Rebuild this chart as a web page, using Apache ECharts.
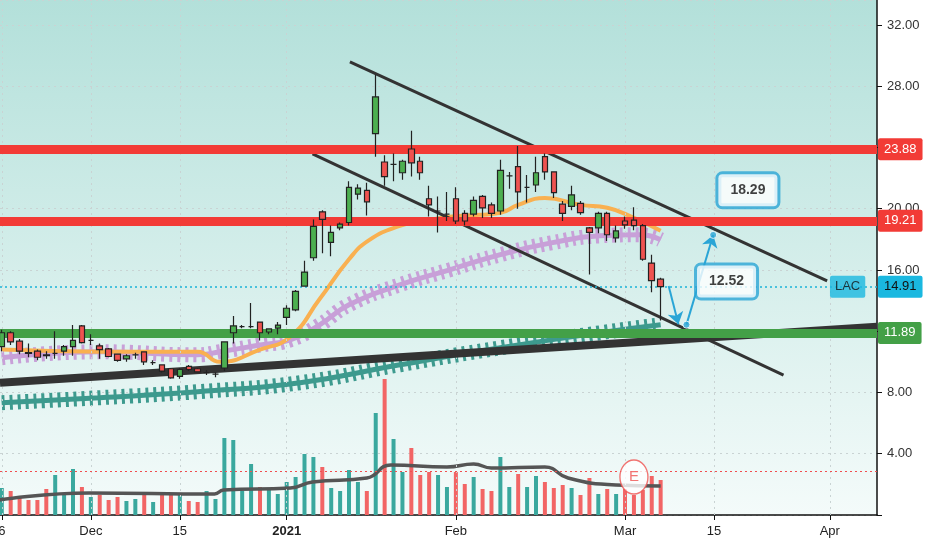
<!DOCTYPE html>
<html><head><meta charset="utf-8">
<script src="https://cdn.jsdelivr.net/npm/echarts@6/dist/echarts.min.js"></script>
<style>html,body{margin:0;padding:0;background:#fff}#c{width:932px;height:550px}</style>
</head><body><div id="c"></div>
<script>
// trading-day index: 0 = Dec 1 2020
const startIndex = -10;
const opens  = [11.0,11.9,11.35,10.6,10.7,10.45,10.55,10.7,11.0,12.35,11.4,11.05,10.85,10.5,10.2,10.45,10.65,9.95,9.8,9.55,9.05,9.7,9.55,9.3,9.2,9.6,11.9,12.3,12.3,12.6,11.95,12.2,12.9,13.4,14.95,16.8,19.8,17.8,18.75,19.1,20.95,21.2,24.9,23.05,22.9,22.35,23.9,23.1,20.65,19.85,19.65,20.65,19.7,19.65,20.8,20.25,19.85,22.15,22.75,21.4,21.55,23.4,22.4,20.3,20.15,20.35,18.75,18.75,19.7,18.1,19.2,19.25,18.9,16.45,15.4];
const closes = [11.9,11.3,10.7,10.55,10.3,10.4,10.55,11.0,11.4,11.25,11.4,10.8,10.35,10.1,10.4,10.45,10.0,9.95,9.4,8.95,9.5,9.5,9.35,9.3,9.2,11.3,12.35,12.3,12.3,11.9,12.15,12.4,13.5,14.6,15.86,18.85,19.3,18.45,19.0,21.4,21.35,20.45,27.3,22.1,22.9,23.1,23.0,22.35,20.25,19.85,19.65,19.2,19.2,20.55,20.05,19.7,22.5,22.15,21.1,21.4,22.35,22.4,21.05,19.7,20.9,19.75,18.45,19.7,18.3,18.55,18.95,18.9,16.7,15.3,14.91];
const lows   = [10.7,11.1,10.5,10.3,10.1,10.2,10.2,10.4,10.4,11.2,11.1,10.2,10.3,10.0,10.0,10.2,9.8,9.8,9.3,8.9,8.9,9.4,9.3,9.15,9.0,9.4,11.2,12.2,12.2,11.4,11.8,11.8,12.4,13.3,14.9,16.6,17.1,16.9,18.6,18.9,20.6,19.55,23.4,21.5,21.8,21.9,22.1,21.9,19.5,18.45,19.2,19.0,18.9,19.5,19.4,19.4,19.6,21.3,20.0,20.4,21.1,21.9,20.7,19.2,19.9,19.6,15.7,18.4,17.9,17.8,18.7,18.6,16.6,14.55,12.7];
const highs  = [12.1,12.0,11.5,11.2,10.8,10.7,12.0,11.1,12.4,12.4,11.8,11.2,10.9,10.5,10.5,10.6,10.7,10.1,9.85,9.6,9.6,9.8,9.6,9.45,9.3,11.3,13.0,12.4,13.85,12.6,12.2,12.6,13.7,14.7,16.6,19.3,19.9,18.9,19.1,21.8,21.6,21.7,28.75,23.5,23.6,23.2,25.1,23.4,21.5,20.8,21.1,21.4,19.9,20.8,20.9,20.4,23.2,22.4,24.1,22.2,23.4,23.6,22.4,20.5,21.5,20.5,18.8,19.8,19.8,18.9,19.5,20.1,19.0,17.0,15.5];
const volumes = [27,24,19,15,15,26,40,22,46,28,18,20,15,18,14,16,20,13,21,20,22,14,13,24,16,77,75,24,51,28,25,21,33,38,61,58,48,27,24,45,33,24,102,136,76,43,67,40,43,40,28,43,31,38,26,24,58,28,41,28,39,33,27,30,27,20,37,21,26,21,26,20,25,39,35];
const volMA = [[-10.3,15],[-0.2,22],[13.9,21],[14.9,25],[22.4,27],[24.9,33],[31,37],[33.7,50],[40,48],[43,51],[45,47],[51,48],[53.6,37],[59,30],[64,29]];
const ema20 = [[-10,10.8],[1,10.66],[12,10.66],[14.5,10.0],[19,10.8],[22.4,11.64],[25.7,14.1],[29,16.7],[31.3,17.97],[34.7,18.88],[37,19.14],[40.3,19.47],[43.7,19.6],[46,19.73],[48,20.25],[51,20.7],[55,20.25],[58,20.06],[61,19.4],[64,18.56]];
const ma50 = [[-10,10.27],[1,10.66],[12,10.46],[14.5,10.66],[19,11.1],[22.4,11.44],[25.7,12.42],[29,13.73],[34.7,15.03],[40.3,16.01],[46,17.0],[51.7,17.77],[57.2,18.23],[61.7,18.3],[64,17.97]];
const ma200 = [[-10,7.33],[1,7.66],[12,8.05],[23.5,8.64],[34.7,9.81],[46,10.92],[57.2,11.9],[64,12.42]];
const trendLine = [[-10.2,8.64],[88.3,12.3]];
const channelUpper = [[29.1,29.59],[82.7,15.29]];
const channelLower = [[24.9,23.58],[77.8,9.14]];
const arrowDown = [[64.9,14.95],[66.0,12.45]];
const arrowUp = [[66.9,12.43],[69.9,18.29]];
const targets = [{x:69.9,y:18.29,label:'18.29',lx:73.8,ly:21.2},{x:66.9,y:12.43,label:'12.52',lx:71.4,ly:15.25}];
const levelsRed = [23.88,19.21];
const levelGreen = 11.89;
const lastPrice = 14.91;
const volLevel = 44;
const tickValues = [-10,0,10,22,41,60,70,83];
const tickLabels = ['6','Dec','15','2021','Feb','Mar','15','Apr'];

const candles = opens.map((o,i)=>[startIndex+i,o,closes[i],lows[i],highs[i]]);
const vols = volumes.map((v,i)=>({value:[startIndex+i,v],itemStyle:{color:closes[i]>=opens[i]?'#3aa89e':'#f26565'}}));

const chart = echarts.init(document.getElementById('c'));
const F = 'Liberation Sans, Arial, sans-serif';
const CY = '#2aa5d6';
const hl = (y,color)=>({yAxis:y,lineStyle:{color:color,width:9,type:'solid'},label:{formatter:y.toFixed(2),position:'end',distance:1,color:'#fff',backgroundColor:color,padding:[5,6,4,6],fontSize:13,fontFamily:F,borderRadius:2}});
chart.setOption({
  animation:false,
  grid:{left:0,right:55,top:0,bottom:35,show:true,borderWidth:0,outerBoundsMode:'none',containLabel:false,
    backgroundColor:{type:'linear',x:0,y:0,x2:0,y2:1,colorStops:[{offset:0,color:'#b3e0da'},{offset:1,color:'#f4fbfa'}]}},
  xAxis:{type:'value',min:-10.2,max:88.3,
    axisLine:{show:true,onZero:false,lineStyle:{color:'#111',width:1.5}},
    axisTick:{show:true,customValues:tickValues,length:5,lineStyle:{color:'#111'}},
    axisLabel:{customValues:tickValues,fontFamily:F,fontSize:13,color:'#222',margin:10,
      formatter:v=>{const k=tickValues.indexOf(v);const t=tickLabels[k];return t==='2021'?'{b|2021}':t;},
      rich:{b:{fontWeight:'bold',fontSize:13,fontFamily:F,color:'#222'}}},
    splitLine:{show:false}},
  yAxis:[{type:'value',position:'right',min:0,max:33.63,interval:4,
    axisLine:{show:true,onZero:false,lineStyle:{color:'#111',width:1.5}},
    axisTick:{show:true,length:5,lineStyle:{color:'#111'}},
    axisLabel:{formatter:v=>v===0?'':v.toFixed(2),fontFamily:F,fontSize:13,color:'#333',margin:10,showMaxLabel:false},
    splitLine:{show:true,lineStyle:{color:'#c9d3d3',type:[2,4]}}},
    {type:'value',min:0,max:515,show:false,axisLine:{show:false,onZero:false}}],
  series:[
    {type:'bar',yAxisIndex:1,data:vols,barWidth:4,z:1,
      markLine:{silent:true,symbol:'none',data:tickValues.map(v=>({xAxis:v})),lineStyle:{color:'#c9d3d3',type:[2,4],width:1},label:{show:false}}},
    {type:'line',yAxisIndex:1,data:volMA,smooth:true,symbol:'none',lineStyle:{color:'#555',width:3.5},z:2,
      markLine:{silent:true,symbol:'none',data:[{yAxis:volLevel}],lineStyle:{color:'#f05050',type:[2,3],width:1},label:{show:false}}},
    {type:'scatter',yAxisIndex:1,data:[[61,38]],symbolSize:[28,34],itemStyle:{color:'#fff',borderColor:'#ef5350',borderWidth:1.5},
      label:{show:true,position:'inside',formatter:'E',color:'#ef5350',fontSize:15,fontFamily:F},z:20},
    {type:'line',data:ma200,smooth:true,symbol:'none',lineStyle:{color:'#3d9a8e',width:5},z:3},
    {type:'line',data:ma200,smooth:true,symbol:'none',lineStyle:{color:'#3d9a8e',width:15,type:[3,5]},z:3},
    {type:'line',data:ma50,smooth:true,symbol:'none',lineStyle:{color:'#c8a0d8',width:5},z:3},
    {type:'line',data:ma50,smooth:true,symbol:'none',lineStyle:{color:'#c8a0d8',width:15,type:[3,5]},z:3},
    {type:'line',data:ema20,smooth:true,symbol:'none',lineStyle:{color:'#f9b050',width:4},z:4},
    {type:'line',data:trendLine,symbol:'none',lineStyle:{color:'#333',width:8},z:5},
    {type:'line',data:channelUpper,symbol:'none',lineStyle:{color:'#333',width:3},z:5},
    {type:'line',data:channelLower,symbol:'none',lineStyle:{color:'#333',width:3},z:5},
    {type:'candlestick',data:candles,encode:{x:0,y:[1,2,3,4]},barWidth:6,z:8,
      itemStyle:{color:'#4caf50',color0:'#ef5350',borderColor:'#222',borderColor0:'#222',borderWidth:1.2},
      markLine:{silent:true,symbol:'none',z:6,data:[hl(levelsRed[0],'#f23b36'),hl(levelsRed[1],'#f23b36'),hl(levelGreen,'#43a047'),
        {yAxis:lastPrice,lineStyle:{color:'#1cb4d8',width:1.5,type:[2,3]},label:{formatter:lastPrice.toFixed(2),position:'end',distance:1,color:'#111',backgroundColor:'#1ab8e0',padding:[5,6,4,6],fontSize:13,fontFamily:F,borderRadius:2}}]}},
    {type:'lines',coordinateSystem:'cartesian2d',data:[{coords:arrowDown},{coords:arrowUp}],symbol:['none','arrow'],symbolSize:12,
      lineStyle:{color:CY,width:2,opacity:1},z:10},
    {type:'scatter',data:targets.map(t=>[t.x,t.y]),symbolSize:7,itemStyle:{color:CY,borderColor:'#fff',borderWidth:1},z:11},
    {type:'scatter',data:targets.map(t=>({value:[t.lx,t.ly],label:{formatter:t.label}})),symbolSize:0,z:12,
      label:{show:true,position:'inside',color:'#111',fontWeight:'bold',fontSize:14,fontFamily:F,backgroundColor:'#fff',borderColor:CY,borderWidth:3,borderRadius:4,padding:[10,12,8,12]}},
    {type:'scatter',data:[[85.0,lastPrice]],symbolSize:0,z:12,
      label:{show:true,position:'inside',formatter:'LAC',color:'#111',fontSize:13,fontFamily:F,backgroundColor:'#1ab8e0',padding:[5,5,4,5],borderRadius:2}}
  ]
});
</script></body></html>
